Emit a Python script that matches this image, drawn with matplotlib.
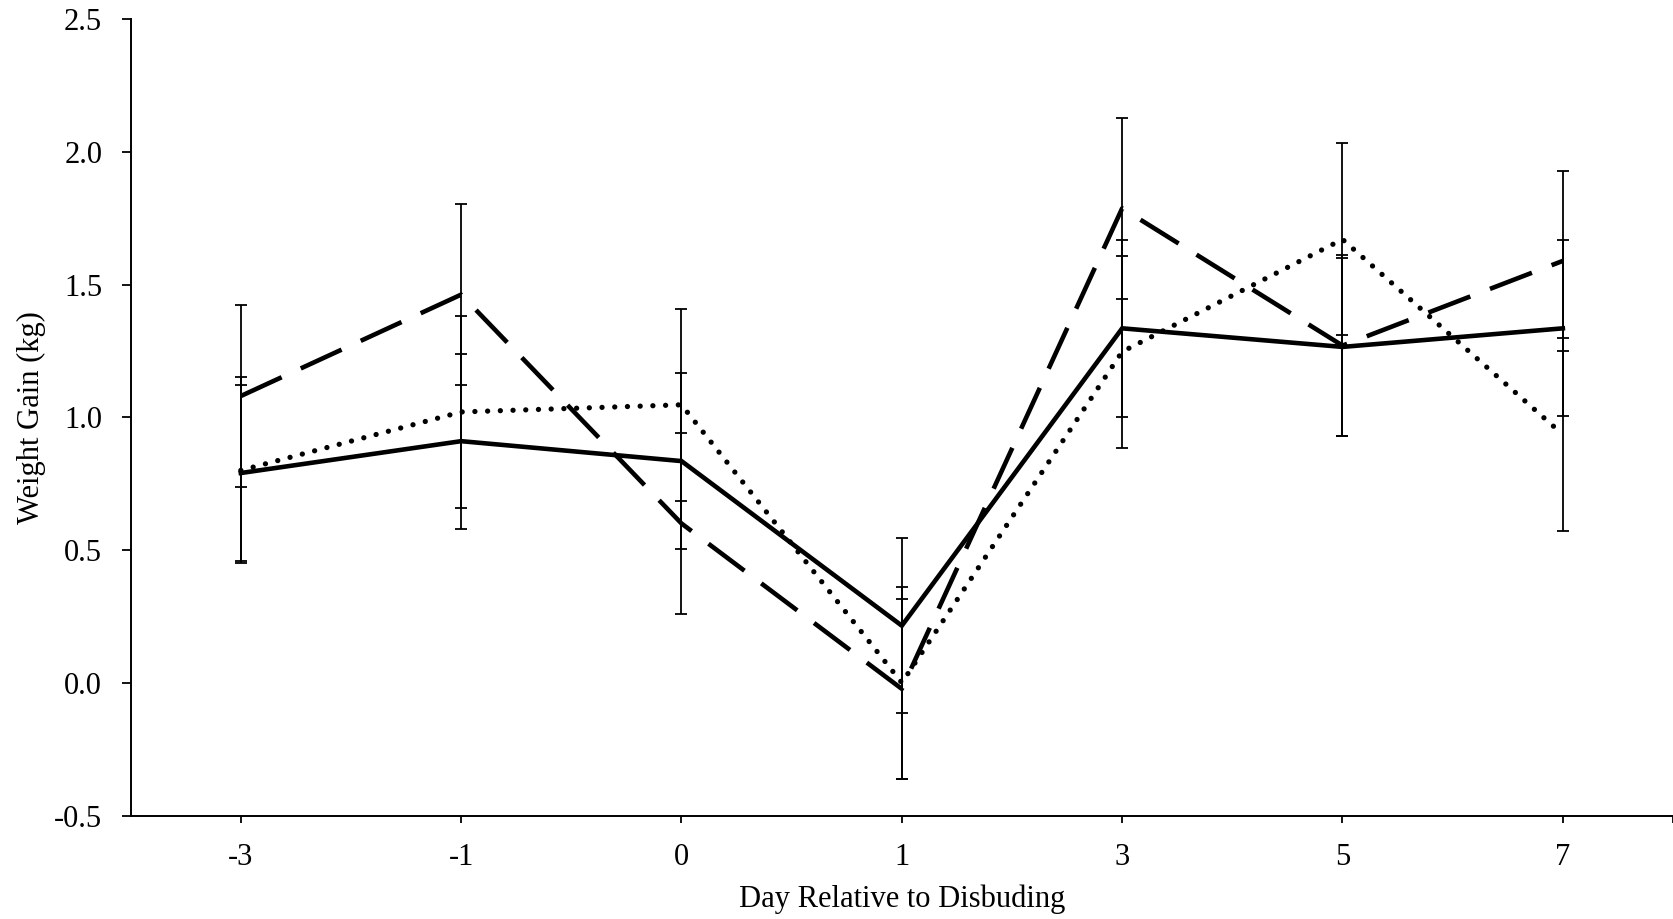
import matplotlib
matplotlib.use("Agg")
import matplotlib.pyplot as plt
from matplotlib.ticker import FixedLocator, FormatStrFormatter

plt.rcParams["font.family"] = ["Liberation Serif", "DejaVu Serif"]
plt.rcParams["axes.unicode_minus"] = False

# Day relative to disbudding (plotted as evenly spaced categories)
days = ["-3", "-1", "0", "1", "3", "5", "7"]

# Mean weight gain (kg) per treatment group and its error
solid_mean = [0.79, 0.91, 0.835, 0.215, 1.335, 1.265, 1.335]
solid_err = [0.33, 0.33, 0.333, 0.33, 0.333, 0.335, 0.332]

dashed_mean = [1.08, 1.462, 0.60, -0.023, 1.787, 1.27, 1.589]
dashed_err = [0.342, 0.342, 0.341, 0.339, 0.342, 0.34, 0.34]

dotted_mean = [0.80, 1.02, 1.047, 0.0, 1.247, 1.67, 0.935]
dotted_err = [0.35, 0.362, 0.361, 0.362, 0.362, 0.362, 0.362]

fig = plt.figure(figsize=(16.73, 9.19), dpi=100)
ax = fig.add_axes([0.0781, 0.1126, 0.9219, 0.8667])

x = list(range(len(days)))

series = [
    (solid_mean, solid_err, dict(linestyle="-", linewidth=3.3,
                                 solid_joinstyle="miter")),
    (dashed_mean, dashed_err, dict(linestyle=(0, (9.8, 4.6)), linewidth=3.3,
                                   dash_capstyle="butt")),
    (dotted_mean, dotted_err, dict(linestyle=(0, (0.01, 2.4)), linewidth=3.8,
                                   dash_capstyle="round")),
]

for mean, err, style in series:
    ax.errorbar(x, mean, yerr=err, fmt="none", ecolor="black",
                elinewidth=1.3, capsize=4.3, capthick=1.3, zorder=2)
    ax.plot(x, mean, color="black", zorder=3, **style)

ax.set_xlim(-0.5, 6.5)
ax.set_ylim(-0.5, 2.5)

ax.set_xticks(x)
ax.set_xticklabels(days)
ax.xaxis.set_minor_locator(FixedLocator([6.5]))
ax.set_yticks([-0.5, 0.0, 0.5, 1.0, 1.5, 2.0, 2.5])
ax.yaxis.set_major_formatter(FormatStrFormatter("%.1f"))

for side in ("top", "right"):
    ax.spines[side].set_visible(False)
for side in ("left", "bottom"):
    ax.spines[side].set_linewidth(1.4)

ax.tick_params(axis="y", direction="out", length=6.5, width=1.3,
               labelsize=22, pad=14)
ax.tick_params(axis="x", which="both", direction="out", length=5, width=1.3,
               labelsize=22, pad=15)

ax.set_xlabel("Day Relative to Disbuding", fontsize=22, labelpad=9)
ax.set_ylabel("Weight Gain (kg)", fontsize=22, labelpad=6)

fig.savefig("out.png", dpi=100)
